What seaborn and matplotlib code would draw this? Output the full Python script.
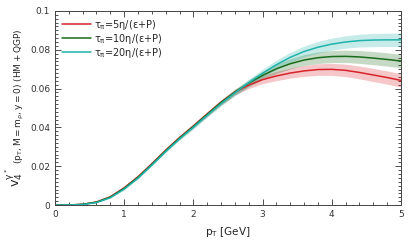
import numpy as np
import pandas as pd
import seaborn as sns
import matplotlib.pyplot as plt
from matplotlib.ticker import MultipleLocator

# ---------------------------------------------------------------- data
pt = [0.0, 0.2, 0.4, 0.6, 0.8, 1.0, 1.2, 1.4, 1.6, 1.8, 2.0, 2.2, 2.4,
      2.6, 2.8, 3.0, 3.2, 3.4, 3.6, 3.8, 4.0, 4.2, 4.4, 4.6, 4.8, 5.0]

v4_tau5 = [0.0, 0.00005, 0.0004, 0.0016, 0.0043, 0.0089, 0.0146, 0.0213, 0.0283, 0.0348, 0.0408, 0.0470, 0.0530,
           0.0582, 0.0618, 0.0646, 0.0665, 0.0680, 0.0691, 0.0698, 0.0699, 0.0694, 0.0683, 0.0670, 0.0657, 0.0642]
v4_tau10 = [0.0, 0.00005, 0.0004, 0.0015, 0.0041, 0.0086, 0.0143, 0.0210, 0.0280, 0.0345, 0.0405, 0.0467, 0.0528,
            0.0582, 0.0628, 0.0668, 0.0702, 0.0728, 0.0747, 0.0759, 0.0765, 0.0766, 0.0763, 0.0757, 0.0750, 0.0742]
v4_tau20 = [0.0, 0.00005, 0.0003, 0.0013, 0.0038, 0.0082, 0.0139, 0.0206, 0.0276, 0.0341, 0.0401, 0.0463, 0.0523,
            0.0578, 0.0630, 0.0679, 0.0723, 0.0761, 0.0791, 0.0813, 0.0829, 0.0840, 0.0847, 0.0850, 0.0851, 0.0851]

band = [0.0, 0.0, 0.0001, 0.0001, 0.0002, 0.0003, 0.0004, 0.0005, 0.0006, 0.0007, 0.0009, 0.0011, 0.0013,
        0.0015, 0.0018, 0.0021, 0.0024, 0.0026, 0.0028, 0.0030, 0.0031, 0.0032, 0.0033, 0.0034, 0.0034, 0.0035]

labels = [r"$\tau_\pi$=5$\eta$/($\epsilon$+P)",
          r"$\tau_\pi$=10$\eta$/($\epsilon$+P)",
          r"$\tau_\pi$=20$\eta$/($\epsilon$+P)"]
colors = ["#d9232a", "#1a6b1a", "#1fb3ab"]

# ---------------------------------------------------------------- plot
sns.set_style("ticks")
plt.rcParams['font.family'] = ['DejaVu Sans']
plt.rcParams['mathtext.default'] = 'regular'

fig = plt.figure(figsize=(4.13, 2.48), dpi=100)
ax = fig.add_axes([0.133, 0.173, 0.838, 0.783])

for vals, lab, col in zip([v4_tau5, v4_tau10, v4_tau20], labels, colors):
    vals = np.array(vals)
    err = np.array(band)
    ax.fill_between(pt, vals - err, vals + err, color=col, alpha=0.25, lw=0)
    df = pd.DataFrame({"pt": pt, "v4": vals})
    sns.lineplot(data=df, x="pt", y="v4", color=col, lw=1.1, label=lab, ax=ax)

ax.set_xlim(0, 5)
ax.set_ylim(0, 0.1)
ax.set_xticks([0, 1, 2, 3, 4, 5])
ax.set_yticks([0, 0.02, 0.04, 0.06, 0.08, 0.1])
ax.set_yticklabels(["0", "0.02", "0.04", "0.06", "0.08", "0.1"])
ax.xaxis.set_minor_locator(MultipleLocator(0.2))
ax.yaxis.set_minor_locator(MultipleLocator(0.002))
ax.tick_params(which="both", direction="in", top=True, right=True, labelsize=6.5,
               colors="#333333", width=0.6)
ax.tick_params(which="major", length=4)
ax.tick_params(which="minor", length=2)
for s in ax.spines.values():
    s.set_linewidth(0.7)
    s.set_color("#444444")

ax.set_xlabel(r"p$_T$ [GeV]", fontsize=7.5, labelpad=4)
ax.set_ylabel(r"v$_4^{\gamma^*}$ $\mathregular{_{(p_T,M=m_\rho,y=0)\ (HM+QGP)}}$", fontsize=9.2, labelpad=3)

leg = ax.legend(loc="upper left", frameon=False, fontsize=7, handlelength=3.0,
                borderaxespad=0.3, labelspacing=0.0, handletextpad=0.35)

plt.savefig("out.png", dpi=100)
